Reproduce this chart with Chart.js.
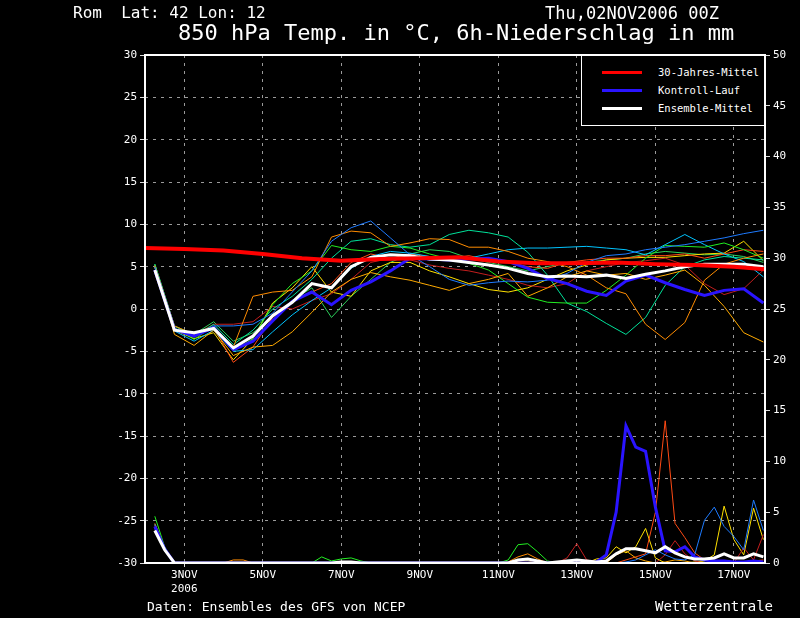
<!DOCTYPE html>
<html>
<head>
<meta charset="utf-8">
<script src="https://cdn.jsdelivr.net/npm/chart.js@4.4.1/dist/chart.umd.min.js"></script>
<style>
body { margin: 0; background: #000; }
#wrap { position: relative; width: 800px; height: 618px; overflow: hidden; color: #fff; font-family: "DejaVu Sans Mono", monospace; }
#c { position: absolute; left: 0; top: 0; }
.t { position: absolute; white-space: pre; line-height: 1; }
#lg { position: absolute; left: 581px; top: 55px; width: 184px; height: 71px; box-sizing: border-box; border: 1px solid #fff; background: #000; }
#lg i { position: absolute; left: 20px; width: 40px; height: 3px; }
#lg span { position: absolute; left: 76px; font-size: 10.5px; line-height: 1; }
</style>
</head>
<body>
<div id="wrap">
  <canvas id="c" width="800" height="618"></canvas>
  <div class="t" style="left:73px;top:5px;font-size:16px">Rom  Lat: 42 Lon: 12</div>
  <div class="t" style="left:545px;top:5px;font-size:17px">Thu,02NOV2006 00Z</div>
  <div class="t" style="left:178px;top:22px;font-size:22px">850 hPa Temp. in °C, 6h-Niederschlag in mm</div>
  <div class="t" style="left:147px;top:600px;font-size:13px">Daten: Ensembles des GFS von NCEP</div>
  <div class="t" style="left:655px;top:599px;font-size:14px">Wetterzentrale</div>
  <div id="lg">
    <i style="top:15px;background:#ff0000"></i><span style="top:11px">30-Jahres-Mittel</span>
    <i style="top:33px;background:#2a14ff"></i><span style="top:29px">Kontroll-Lauf</span>
    <i style="top:51px;background:#ffffff"></i><span style="top:47px">Ensemble-Mittel</span>
  </div>
</div>
<script>
// hours after 02NOV2006 00Z
const tHours = [6,18,30,42,54,66,78,90,102,114,126,138,150,162,174,186,198,210,222,234,246,258,270,282,294,306,318,330,342,354,366,378];
const pHours = [6,12,18,24,30,36,42,48,54,60,66,72,78,84,90,96,102,108,114,120,126,132,138,144,150,156,162,168,174,180,186,192,198,204,210,216,222,228,234,240,246,252,258,264,270,276,282,288,294,300,306,312,318,324,330,336,342,348,354,360,366,372,378];
const rHours = [0,24,48,72,96,120,144,168,192,216,240,264,288,312,336,360,379];

const tickHours = [24,72,120,168,216,264,312,360];
const tickLabels = ['3NOV','5NOV','7NOV','9NOV','11NOV','13NOV','15NOV','17NOV'];
const yearLabel = '2006';

// 30-Jahres-Mittel
const rVals = [7.2,7.1,6.9,6.5,6.0,5.7,5.9,6.0,6.1,5.6,5.4,5.4,5.5,5.3,5.2,5.0,4.7];

// 850 hPa temperature (12h)
const tMean = [4.6,-2.5,-2.8,-2.3,-4.6,-3.2,-0.8,0.8,3.0,2.5,5.0,6.1,6.4,6.3,5.9,5.8,5.5,5.2,4.8,4.2,3.8,3.9,3.8,4.0,3.6,4.1,4.5,5.0,5.3,5.3,5.3,5.0];
const tCtl  = [4.6,-2.4,-3.2,-2.2,-4.8,-3.8,-1.4,0.9,2.0,0.5,2.2,3.2,4.5,6.0,5.9,5.8,5.9,6.0,5.6,4.8,3.6,3.0,2.1,1.6,3.3,4.0,3.1,2.3,1.6,2.2,2.4,0.7];
const tDod  = [5.0,-2.5,-3.3,-2.0,-2.0,-1.8,-0.5,2.0,4.5,8.0,9.6,10.4,8.4,6.4,5.0,3.5,2.8,3.1,3.3,3.2,3.4,4.2,5.5,6.3,6.5,7.0,7.3,7.6,8.0,8.4,8.9,9.3];
const tOrg  = [5.1,-2.0,-3.0,-2.2,-4.5,1.5,2.0,2.2,3.8,8.5,9.2,9.0,7.4,7.8,8.3,8.2,7.3,7.3,6.8,6.0,5.6,5.0,4.0,2.5,1.8,-1.8,-3.6,-1.6,3.4,5.3,6.0,6.5];
const tLor  = [5.0,-3.0,-4.3,-2.5,-5.5,-4.5,-4.3,-2.7,-0.4,2.0,3.5,4.3,3.8,3.4,2.8,2.2,3.0,3.5,4.2,1.5,2.5,3.8,4.5,4.0,4.2,3.5,4.0,4.6,2.8,0.3,-2.8,-3.9];
const tGrn  = [5.2,-2.2,-3.6,-2.0,-5.0,-3.5,0.5,3.0,4.5,7.5,7.0,6.8,7.4,7.2,6.5,5.9,5.4,4.6,3.0,1.4,0.8,0.7,0.7,2.2,4.0,6.0,7.5,7.4,7.3,7.8,7.0,6.0];
const tSpg  = [5.3,-2.0,-3.3,-1.8,-4.2,-2.5,0.0,1.5,3.5,6.0,8.0,8.3,7.6,7.3,7.6,8.8,9.3,9.0,8.5,6.7,4.0,0.7,-0.3,-1.7,-3.0,-1.0,2.8,5.0,5.8,6.2,6.0,5.8];
const tCyn  = [4.9,-2.6,-3.8,-2.5,-5.0,-4.8,-2.7,-0.7,1.0,2.5,4.8,6.2,6.8,6.6,6.2,5.8,6.0,6.5,7.0,7.2,7.2,7.3,7.4,7.2,7.0,6.4,7.6,8.8,7.6,6.5,5.6,3.8];
const tFbr  = [5.1,-2.4,-3.1,-1.8,-1.8,-1.5,0.3,0.0,1.0,1.8,3.5,5.5,6.0,5.8,5.2,4.8,4.5,4.0,3.5,2.8,2.5,3.0,4.5,5.0,5.5,5.7,6.0,5.2,3.0,1.7,2.4,4.6];
const tOrr  = [5.2,-2.3,-3.2,-2.2,-6.3,-4.5,-1.0,1.0,2.0,3.0,5.5,6.5,6.0,6.5,6.2,6.0,6.3,5.8,5.5,5.0,4.8,5.5,5.8,6.0,6.0,6.3,6.3,6.5,6.0,6.5,7.0,6.8];
const tYel  = [5.0,-2.5,-3.5,-2.8,-6.0,-3.5,0.7,2.5,5.0,2.0,1.5,4.5,5.5,5.5,4.5,3.8,3.0,2.3,2.0,2.5,3.5,4.5,5.2,5.8,6.0,6.1,6.1,6.3,6.5,6.6,8.0,5.7];
const tSea  = [5.3,-2.0,-3.0,-1.5,-3.8,-2.8,-1.0,1.0,2.5,-1.0,1.5,3.5,5.5,6.5,7.0,6.8,6.0,5.5,5.0,4.5,5.0,5.5,5.5,5.8,6.0,6.5,6.8,6.6,6.4,6.5,6.2,5.5];

// 6h precipitation (mm)
const pMean = [3.2,1.3,0,0,0,0,0,0,0, 0,0,0,0,0,0,0,0,0, 0,0.1,0.1,0,0,0,0,0,0, 0,0,0,0,0,0,0,0,0, 0,0.3,0.4,0.2,0,0.1,0.2,0.3,0.2, 0.1,0.2,0.9,1.4,1.4,1.2,1.0,1.6,1.0, 0.6,0.4,0.4,0.5,0.9,0.5,0.5,0.9,0.6];
const pCtl  = [3.6,1.4,0,0,0,0,0,0,0, 0,0,0,0,0,0,0,0,0, 0,0,0,0,0,0,0,0,0, 0,0,0,0,0,0,0,0,0, 0,0,0,0,0,0,0,0,0, 0.1,0.8,5.0,13.5,11.4,11.0,5.5,1.2,1.1, 1.6,0.6,0.3,0.2,0.2,0.1,0.1,0.2,0.1];
const pDod  = [3.8,1.5,0,0,0,0,0,0,0, 0,0,0,0,0,0,0,0,0, 0,0,0,0,0,0,0,0,0, 0,0,0,0,0,0,0,0,0, 0,0,0,0,0,0,0,0,0, 0,0,0,0.1,0.3,0.8,1.3,0.8,0.4, 0.3,0.8,4.2,5.5,3.6,2.6,1.3,6.2,3.2];
const pOrg  = [3.9,1.5,0,0,0,0,0,0,0.3, 0.3,0,0,0,0,0,0,0,0, 0,0,0,0,0,0,0,0,0, 0,0,0,0,0,0,0,0,0, 0.1,0.6,0.9,0.4,0,0,0,0,0, 0,0,0,0,0,0,0,0,0, 0,0,0,0,0,0,0,0,0];
const pLor  = [3.5,1.2,0,0,0,0,0,0,0, 0,0,0,0,0,0,0,0,0, 0,0,0,0,0,0,0,0,0, 0,0,0,0,0,0,0,0,0, 0,0,0,0,0,0,0,0,0, 0,0,0.8,1.2,0.5,0.2,0,0.1,0.3, 0.2,0,0,0,0,0,0,0,0];
const pGrn  = [4.6,1.6,0,0,0,0,0,0,0, 0,0,0,0,0,0,0,0,0.6, 0.2,0.4,0.5,0.2,0,0,0,0,0, 0,0,0,0,0,0,0,0,0, 0.3,1.8,1.9,1.1,0.2,0,0,0,0, 0,0,0,0,0,0,0,0,0, 0,0,0,0,0,0,0,0,0];
const pSpg  = [3.4,1.2,0,0,0,0,0,0,0, 0,0,0,0,0,0,0,0,0, 0,0,0,0,0,0,0,0,0, 0,0,0,0,0,0,0,0,0, 0,0,0,0,0,0,0,0,0, 0,0,0,0,0,0,0,0,0, 0,0,0,0,0,0,0,0,0];
const pCyn  = [3.5,1.3,0,0,0,0,0,0,0, 0,0,0,0,0,0,0,0,0, 0,0,0,0,0,0,0,0,0, 0,0,0,0,0,0,0,0,0, 0,0,0,0,0,0,0,0,0, 0,0,0,0,0,0,0,0,0, 0,0,0,0,0,0,0,0,0];
const pFbr  = [3.7,1.4,0,0,0,0,0,0,0, 0,0,0,0,0,0,0,0,0, 0,0,0,0,0,0,0,0,0, 0,0,0,0,0,0,0,0,0, 0,0,0,0,0,0,0.5,1.9,0.3, 0.1,0,0,0,0,0,0,0.8,2.2, 0.9,0.2,0,0,0,0,1.5,0.3,2.8];
const pOrr  = [3.7,1.5,0,0,0,0,0,0,0, 0,0,0,0,0,0,0,0,0, 0,0,0,0,0,0,0,0,0, 0,0,0,0,0,0,0,0,0, 0,0,0,0,0,0,0,0,0, 0,0,0,0.3,0.6,0.9,5.0,14.0,3.9, 2.5,1.0,0.3,0.1,0,0,0,0.2,0.3];
const pYel  = [3.5,1.2,0,0,0,0,0,0,0, 0,0,0,0,0,0,0,0,0, 0,0,0,0,0,0,0,0,0, 0,0,0,0,0,0,0,0,0, 0,0.2,0.2,0,0,0,0,0,0, 0.4,0.5,1.6,1.0,1.6,3.4,0.5,0,0, 0,0.1,0.2,0.8,5.6,2.3,0.8,5.4,2.3];
const pSea  = [3.8,1.4,0,0,0,0,0,0,0, 0,0,0,0,0,0,0,0,0, 0,0,0,0,0,0,0,0,0, 0,0,0,0,0,0,0,0,0, 0,0,0,0,0,0,0,0,0, 0,0,0,0,0,0,0,0,0, 0,0,0,0,0,0,0,0,0];

const memberTemps = [tDod, tOrg, tLor, tGrn, tSpg, tCyn, tFbr, tOrr, tYel, tSea];
const memberPrecs = [pDod, pOrg, pLor, pGrn, pSpg, pCyn, pFbr, pOrr, pYel, pSea];
const memberColors = ['#1e7bff','#ff8c00','#ffaa00','#22ee22','#00e29a','#00c4ff','#c41e1e','#ff4a14','#ffe000','#2ccf5a'];

const pts = (xs, ys) => ys.map((y, i) => ({ x: xs[i], y }));
const line = (data, color, w, axis) => ({ data, borderColor: color, borderWidth: w, pointRadius: 0, tension: 0, fill: false, yAxisID: axis });

const ds = [
  line(pts(rHours, rVals), '#ff0000', 4, 'yT'),
  line(pts(tHours, tMean), '#ffffff', 3, 'yT'),
  line(pts(pHours, pMean), '#ffffff', 3, 'yP'),
  line(pts(tHours, tCtl), '#2a14ff', 3, 'yT'),
  line(pts(pHours, pCtl), '#2a14ff', 3, 'yP')
];
memberTemps.forEach((t, i) => {
  ds.push(line(pts(tHours, t), memberColors[i], 1, 'yT'));
  ds.push(line(pts(pHours, memberPrecs[i]), memberColors[i], 1, 'yP'));
});

const frame = {
  id: 'frame',
  afterDatasetsDraw(c) {
    const { ctx, chartArea: a } = c;
    ctx.save();
    ctx.strokeStyle = '#fff'; ctx.lineWidth = 2;
    ctx.strokeRect(a.left, a.top, a.right - a.left, a.bottom - a.top);
    ctx.restore();
  }
};

const font = { family: 'DejaVu Sans Mono', size: 11 };
const gridCol = '#9a9a9a';

new Chart(document.getElementById('c'), {
  type: 'line',
  data: { datasets: ds },
  plugins: [frame],
  options: {
    responsive: false,
    animation: false,
    events: [],
    layout: { padding: { top: 55, left: 0, right: 0, bottom: 0 } },
    plugins: { legend: { display: false }, tooltip: { enabled: false } },
    scales: {
      x: {
        type: 'linear', min: 0, max: 379,
        afterFit: s => { s.height = 55; },
        afterBuildTicks: s => { s.ticks = tickHours.map(v => ({ value: v })); },
        ticks: {
          color: '#fff', font, padding: 2, maxRotation: 0, autoSkip: false,
          callback: (v, i) => i === 0 ? [tickLabels[0], yearLabel] : tickLabels[i]
        },
        grid: { color: gridCol, lineWidth: 1, tickLength: 4, tickColor: '#ddd' },
        border: { display: false, dash: [3, 5] }
      },
      yT: {
        position: 'left', min: -30, max: 30,
        afterFit: s => { s.width = 145; },
        ticks: { stepSize: 5, color: '#fff', font, padding: 3 },
        grid: { color: gridCol, lineWidth: 1, tickLength: 5, tickColor: '#ddd' },
        border: { display: false, dash: [3, 5] }
      },
      yP: {
        position: 'right', min: 0, max: 50,
        afterFit: s => { s.width = 35; },
        ticks: { stepSize: 5, color: '#fff', font, padding: 3 },
        grid: { drawOnChartArea: false, tickLength: 5, tickColor: '#ddd' },
        border: { display: false }
      }
    }
  }
});
</script>
</body>
</html>
